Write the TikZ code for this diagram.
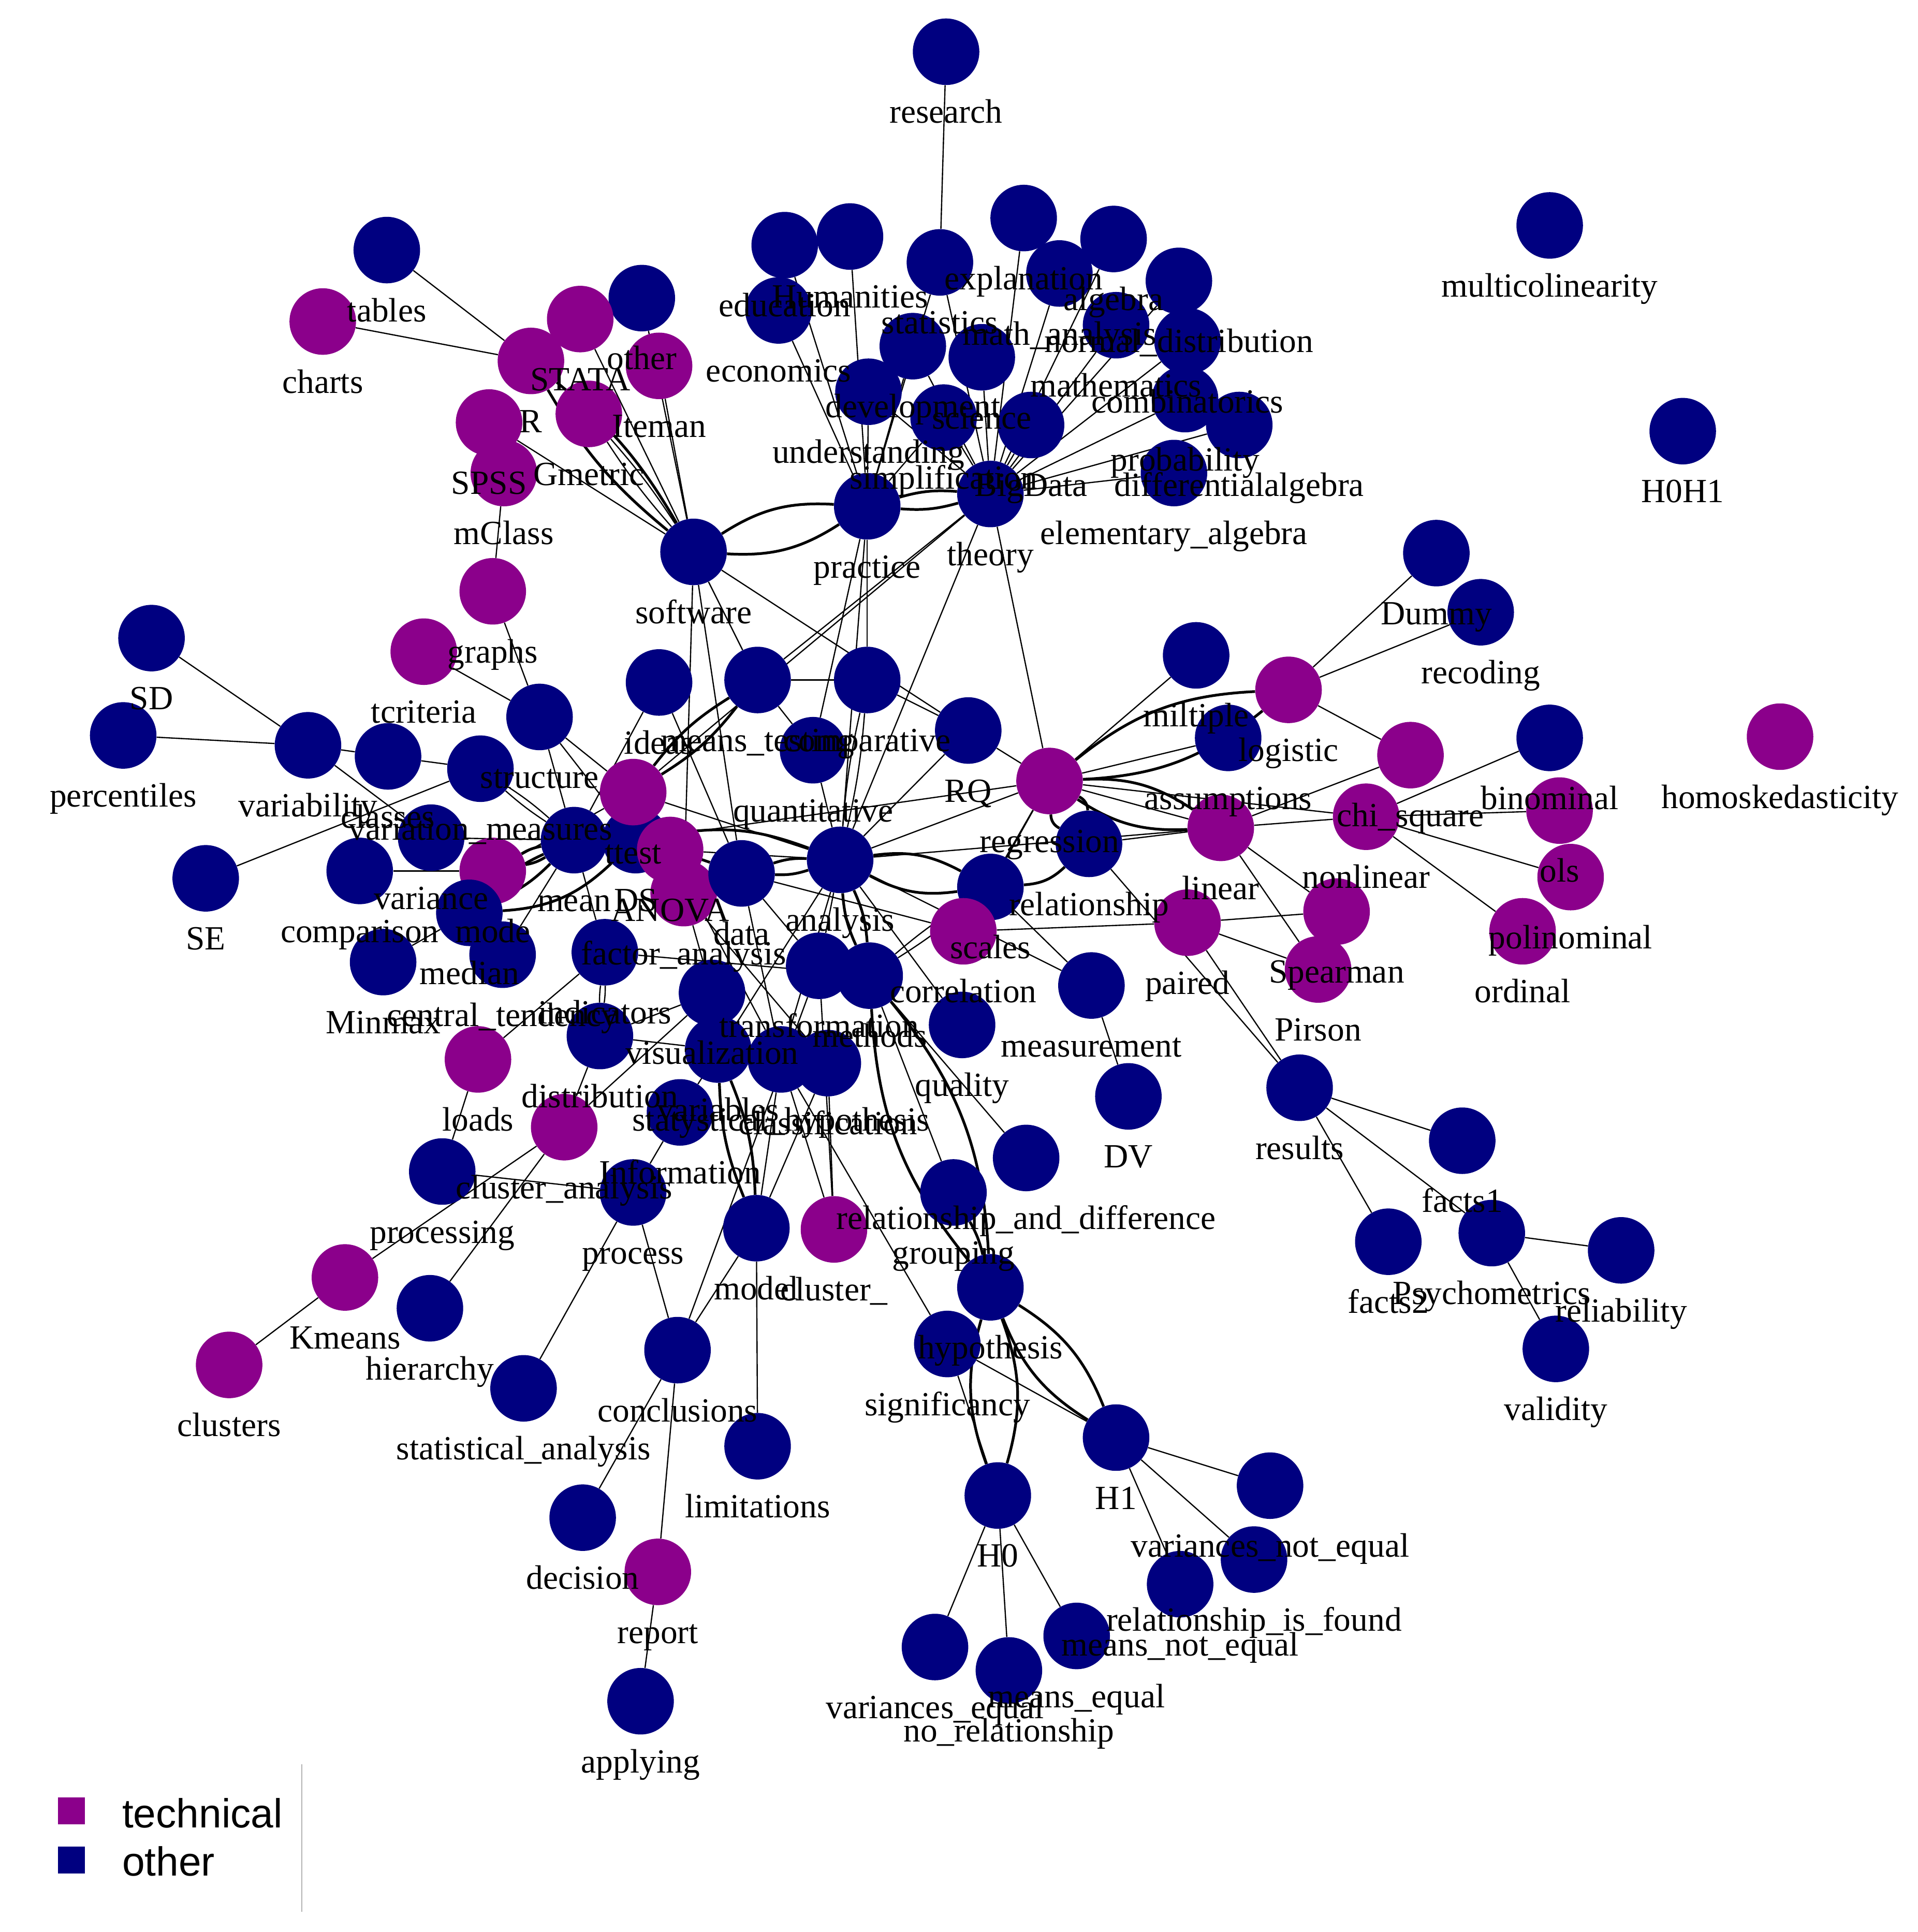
\documentclass[tikz,border=0pt]{standalone}
\usepackage{fontspec}
\setmainfont{Liberation Serif}
\newfontfamily\legfont{Liberation Sans}
\pgfdeclarelayer{edges}
\pgfdeclarelayer{labels}
\pgfsetlayers{edges,main,labels}
\definecolor{nv}{HTML}{000080}
\definecolor{pp}{HTML}{8B008B}
\tikzset{
 vnode/.style={circle, minimum size=54pt, inner sep=0pt, draw=none},
 oth/.style={vnode, fill=nv},
 tec/.style={vnode, fill=pp},
 lbl/.style={anchor=base, inner sep=0pt, font=\fontsize{27.5}{30}\selectfont},
 ed/.style={line width=1pt, black},
 med/.style={line width=2.2pt, black},
 legbox/.style={minimum size=22pt, inner sep=0pt, draw=none},
 legtxt/.style={anchor=west, inner sep=0pt, font=\legfont\fontsize{33}{36}\selectfont},
}
\newcommand\vtx[5]{\node[#4] (#1) at (#2,#3) {};
 \begin{pgfonlayer}{labels}\node[lbl] (#1-l) at (#2,#3+58) {#5};\end{pgfonlayer}}
\newcommand\edg[2]{\draw[ed] (#1) -- (#2);}
\newcommand\dbl[2]{\draw[med] (#1) to[bend left=10] (#2); \draw[med] (#1) to[bend right=10] (#2);}
\newcommand\dbw[2]{\draw[med] (#1) to[bend left=18] (#2); \draw[med] (#1) to[bend right=18] (#2);}
\newcommand\dbt[2]{\draw[ed] (#1) to[bend left=4] (#2); \draw[ed] (#1) to[bend right=4] (#2);}
\begin{document}
\begin{tikzpicture}[x=1pt,y=-1pt]
\useasboundingbox (0,0) rectangle (1557,1568.35);
% ---------------- vertices
\vtx{research}{768}{42}{oth}{research}
\vtx{multicol}{1258}{183}{oth}{multicolinearity}
\vtx{hh}{1366}{350}{oth}{H0H1}
\vtx{tables}{314}{203}{oth}{tables}
\vtx{charts}{262}{261}{tec}{charts}
\vtx{other}{521}{242}{oth}{other}
\vtx{stata}{471}{259}{tec}{STATA}
\vtx{R}{431}{293}{tec}{R}
\vtx{iteman}{535}{297}{tec}{Iteman}
\vtx{gmetric}{478}{336}{tec}{Gmetric}
\vtx{spss}{397}{343}{tec}{SPSS}
\vtx{mclass}{409}{384}{tec}{mClass}
\vtx{graphs}{400}{480}{tec}{graphs}
\vtx{tcrit}{344}{529}{tec}{tcriteria}
\vtx{SD}{123}{518}{oth}{SD}
\vtx{perc}{100}{597}{oth}{percentiles}
\vtx{variab}{250}{605}{oth}{variability}
\vtx{classes}{315}{614}{oth}{classes}
\vtx{varmeas}{390}{624}{oth}{variation\_measures}
\vtx{struct}{438}{582}{oth}{structure}
\vtx{SE}{167}{713}{oth}{SE}
\vtx{variance}{350}{680}{oth}{variance}
\vtx{compar}{292}{707}{oth}{comparison}
\vtx{mode}{400}{707}{tec}{mode}
\vtx{median}{381}{741}{oth}{median}
\vtx{central}{408}{775}{oth}{central\_tendency}
\vtx{minmax}{311}{781}{oth}{Minmax}
\vtx{loads}{388}{860}{tec}{loads}
\vtx{mean}{466}{682}{oth}{mean}
\vtx{DS}{516}{682}{oth}{DS}
\vtx{ttest}{514}{643}{tec}{ttest}
\vtx{anova}{544}{690}{tec}{ANOVA}
\vtx{factor}{555}{725}{tec}{factor\_analysis}
\vtx{indic}{491}{773}{oth}{indicators}
\vtx{distrib}{487}{841}{oth}{distribution}
\vtx{clustan}{458}{915}{tec}{cluster\_analysis}
\vtx{processing}{359}{951}{oth}{processing}
\vtx{kmeans}{280}{1037}{tec}{Kmeans}
\vtx{clusters}{186}{1108}{tec}{clusters}
\vtx{hier}{349}{1062}{oth}{hierarchy}
\vtx{statan}{425}{1127}{oth}{statistical\_analysis}
\vtx{process}{514}{968}{oth}{process}
\vtx{info}{552}{903}{oth}{Information}
\vtx{variables}{583}{852}{oth}{variables}
\vtx{visual}{578}{806}{oth}{visualization}
\vtx{transf}{665}{784}{oth}{transformation}
\vtx{methods}{706}{792}{oth}{methods}
\vtx{classif}{672}{863}{oth}{classification}
\vtx{stathyp}{634}{860}{oth}{statystical\_hypothesis}
\vtx{data}{602}{709}{oth}{data}
\vtx{analysis}{682}{698}{oth}{analysis}
\vtx{quant}{660}{609}{oth}{quantitative}
\vtx{meanstest}{615}{552}{oth}{means\_testing}
\vtx{ideas}{535}{554}{oth}{ideas}
\vtx{compara}{704}{552}{oth}{comparative}
\vtx{software}{563}{448}{oth}{software}
\vtx{practice}{704}{411}{oth}{practice}
\vtx{theory}{804}{401}{oth}{theory}
\vtx{educ}{637}{199}{oth}{education}
\vtx{human}{690}{192}{oth}{Humanities}
\vtx{statistics}{763}{213}{oth}{statistics}
\vtx{explan}{831}{177}{oth}{explanation}
\vtx{econ}{632}{252}{oth}{economics}
\vtx{devel}{741}{281}{oth}{development}
\vtx{science}{797}{290}{oth}{science}
\vtx{underst}{705}{318}{oth}{understanding}
\vtx{simpl}{766}{339}{oth}{simplification}
\vtx{bigdata}{837}{345}{oth}{BigData}
\vtx{algebra}{904}{194}{oth}{algebra}
\vtx{mathan}{860}{222}{oth}{math\_analysis}
\vtx{normdist}{957}{228}{oth}{normal\_distribution}
\vtx{maths}{906}{264}{oth}{mathematics}
\vtx{combin}{964}{277}{oth}{combinatorics}
\vtx{prob}{962}{324}{oth}{probability}
\vtx{diffalg}{1006}{345}{oth}{differentialalgebra}
\vtx{elemalg}{953}{384}{oth}{elementary\_algebra}
\vtx{RQ}{786}{593}{oth}{RQ}
\vtx{regr}{852}{634}{tec}{regression}
\vtx{relat}{884}{685}{oth}{relationship}
\vtx{scales}{804}{720}{oth}{scales}
\vtx{corr}{782}{756}{tec}{correlation}
\vtx{measur}{886}{800}{oth}{measurement}
\vtx{quality}{781}{832}{oth}{quality}
\vtx{DV}{916}{890}{oth}{DV}
\vtx{reldiff}{833}{940}{oth}{relationship\_and\_difference}
\vtx{grouping}{774}{968}{oth}{grouping}
\vtx{model}{614}{997}{oth}{model}
\vtx{clus}{677}{998}{tec}{cluster\_}
\vtx{concl}{550}{1096}{oth}{conclusions}
\vtx{limit}{615}{1174}{oth}{limitations}
\vtx{hypo}{804}{1045}{oth}{hypothesis}
\vtx{signif}{769}{1091}{oth}{significancy}
\vtx{Hone}{906}{1167}{oth}{H1}
\vtx{Hzero}{810}{1214}{oth}{H0}
\vtx{varneq}{1031}{1206}{oth}{variances\_not\_equal}
\vtx{relfound}{1018}{1266}{oth}{relationship\_is\_found}
\vtx{meanneq}{958}{1286}{oth}{means\_not\_equal}
\vtx{vareq}{759}{1337}{oth}{variances\_equal}
\vtx{meanseq}{874}{1328}{oth}{means\_equal}
\vtx{norel}{819}{1356}{oth}{no\_relationship}
\vtx{decision}{473}{1232}{oth}{decision}
\vtx{report}{534}{1276}{tec}{report}
\vtx{applying}{520}{1381}{oth}{applying}
\vtx{results}{1055}{883}{oth}{results}
\vtx{factsa}{1187}{926}{oth}{facts1}
\vtx{factsb}{1127}{1008}{oth}{facts2}
\vtx{psycho}{1211}{1001}{oth}{Psychometrics}
\vtx{reliab}{1316}{1015}{oth}{reliability}
\vtx{valid}{1263}{1095}{oth}{validity}
\vtx{paired}{964}{749}{tec}{paired}
\vtx{linear}{991}{672}{tec}{linear}
\vtx{miltiple}{971}{532}{oth}{miltiple}
\vtx{assump}{997}{599}{oth}{assumptions}
\vtx{logistic}{1046}{560}{tec}{logistic}
\vtx{dummy}{1166}{449}{oth}{Dummy}
\vtx{recoding}{1202}{497}{oth}{recoding}
\vtx{chisq}{1145}{613}{tec}{chi\_square}
\vtx{binom}{1258}{599}{oth}{binominal}
\vtx{homo}{1445}{598}{tec}{homoskedasticity}
\vtx{nonlin}{1109}{663}{tec}{nonlinear}
\vtx{ols}{1266}{658}{tec}{ols}
\vtx{polin}{1275}{712}{tec}{polinominal}
\vtx{ordinal}{1236}{756}{tec}{ordinal}
\vtx{spear}{1085}{740}{tec}{Spearman}
\vtx{pirson}{1070}{787}{tec}{Pirson}
% ---------------- legend
\node[legbox, fill=pp] (legT) at (58,1470) {};
\node[legbox, fill=nv] (legO) at (58,1510) {};
\node[legtxt] (legTt) at (99,1472) {technical};
\node[legtxt] (legOt) at (99,1511) {other};
\coordinate (vla) at (245,1432);
\coordinate (vlb) at (245,1552);
% ---------------- edges
\begin{pgfonlayer}{edges}
\fill[white] (0,0) rectangle (1557,1568.35);
\draw[gray!60, line width=0.8pt] (vla) -- (vlb);
% top cluster
\edg{research}{statistics}
\edg{practice}{educ}\edg{practice}{econ}\edg{practice}{human}\edg{practice}{statistics}
\edg{practice}{underst}\edg{practice}{devel}\edg{practice}{simpl}
\edg{theory}{explan}\edg{theory}{algebra}\edg{theory}{mathan}\edg{theory}{normdist}
\edg{theory}{maths}\edg{theory}{combin}\edg{theory}{prob}\edg{theory}{diffalg}
\edg{theory}{elemalg}\edg{theory}{science}\edg{theory}{statistics}\edg{theory}{bigdata}
\edg{theory}{simpl}\edg{theory}{underst}\edg{theory}{devel}
\dbl{practice}{theory}
\dbw{software}{practice}
\edg{theory}{regr}\edg{theory}{analysis}\edg{theory}{meanstest}\edg{theory}{ttest}
\edg{practice}{compara}\edg{practice}{analysis}\edg{practice}{quant}
% software cluster
\edg{software}{meanstest}\edg{software}{factor}\edg{software}{data}\edg{software}{RQ}
\edg{software}{stata}\edg{software}{other}\edg{software}{iteman}\edg{software}{spss}
\dbl{software}{R}
\dbt{software}{gmetric}
\edg{R}{tables}\edg{R}{charts}
\edg{mclass}{graphs}\edg{graphs}{struct}\edg{tcrit}{struct}
% left cluster
\edg{SD}{variab}\edg{perc}{variab}\edg{variab}{classes}\edg{variab}{variance}
\edg{classes}{varmeas}\edg{SE}{varmeas}\edg{compar}{mode}\edg{minmax}{median}
\edg{struct}{ttest}\edg{struct}{mean}\edg{struct}{DS}
\dbt{varmeas}{mean}
\edg{variance}{mean}\edg{central}{mean}\edg{mode}{ttest}
\dbl{mode}{mean}
\dbl{median}{mean}
\draw[med] (median) to[bend right=20] (DS);
\edg{loads}{indic}\edg{loads}{processing}\dbt{indic}{distrib}\edg{indic}{mean}
\edg{indic}{methods}
\edg{distrib}{clustan}\edg{distrib}{visual}\edg{distrib}{variables}
\edg{clustan}{kmeans}\edg{clustan}{hier}\edg{clustan}{visual}\edg{kmeans}{clusters}
\edg{processing}{process}\edg{process}{info}\edg{process}{statan}\edg{process}{concl}
% lower cluster
\edg{concl}{decision}\edg{concl}{report}\edg{report}{applying}\edg{concl}{model}
\edg{model}{limit}\edg{concl}{transf}
\dbl{variables}{model}
\edg{model}{classif}\edg{clus}{classif}\edg{clus}{transf}
\edg{stathyp}{model}\edg{stathyp}{clus}
\edg{signif}{stathyp}\edg{signif}{Hone}\edg{signif}{Hzero}
\dbw{hypo}{Hzero}
\dbw{hypo}{Hone}
\dbw{methods}{hypo}
\edg{methods}{grouping}\edg{methods}{reldiff}
\draw[med] (grouping) to[bend left=8] (hypo);
\edg{Hzero}{vareq}\edg{Hzero}{norel}\edg{Hzero}{meanseq}
\edg{Hone}{varneq}\edg{Hone}{relfound}\edg{Hone}{meanneq}
\edg{results}{factsa}\edg{results}{factsb}\edg{results}{psycho}
\edg{psycho}{reliab}\edg{psycho}{valid}
\edg{results}{paired}\edg{results}{relat}
\edg{measur}{DV}\edg{analysis}{measur}\edg{scales}{measur}\edg{analysis}{quality}
% regression cluster
\edg{regr}{analysis}\edg{RQ}{analysis}\edg{regr}{RQ}\edg{regr}{DS}
\edg{regr}{scales}\edg{regr}{corr}\edg{regr}{miltiple}\edg{regr}{assump}
\dbw{regr}{logistic}
\dbw{regr}{linear}
\edg{regr}{linear}
\draw[med] (regr) to[bend left=30] (relat);
\draw[med] (regr) to[bend right=30] (relat);
\edg{analysis}{linear}\edg{relat}{linear}
\dbw{analysis}{scales}
\draw[med] (relat) to[bend left=20] (scales);
\edg{corr}{paired}
\dbt{methods}{scales}
\edg{regr}{nonlin}\edg{compara}{RQ}
\edg{logistic}{dummy}\edg{logistic}{recoding}\edg{logistic}{chisq}
\edg{linear}{chisq}\edg{linear}{nonlin}
\edg{nonlin}{binom}\edg{nonlin}{ols}\edg{nonlin}{polin}\edg{nonlin}{ordinal}
\edg{linear}{spear}\edg{linear}{pirson}\edg{paired}{spear}\edg{paired}{pirson}
% hub
\dbl{ttest}{meanstest}
\edg{ttest}{analysis}
\draw[med] (DS) to[bend left=15] (analysis);
\dbl{data}{analysis}
\edg{anova}{analysis}\edg{quant}{analysis}
\edg{meanstest}{quant}\edg{meanstest}{compara}
\dbt{compara}{analysis}
\edg{ideas}{data}\edg{ideas}{mean}\edg{mean}{DS}
\draw[med] (mean) to[bend left=8] (data);
\edg{data}{transf}\edg{data}{stathyp}\edg{data}{corr}
\edg{anova}{stathyp}\edg{factor}{classif}\edg{factor}{visual}
\dbl{analysis}{methods}
\edg{analysis}{transf}\edg{analysis}{info}\edg{analysis}{stathyp}
\end{pgfonlayer}
\end{tikzpicture}
\end{document}
